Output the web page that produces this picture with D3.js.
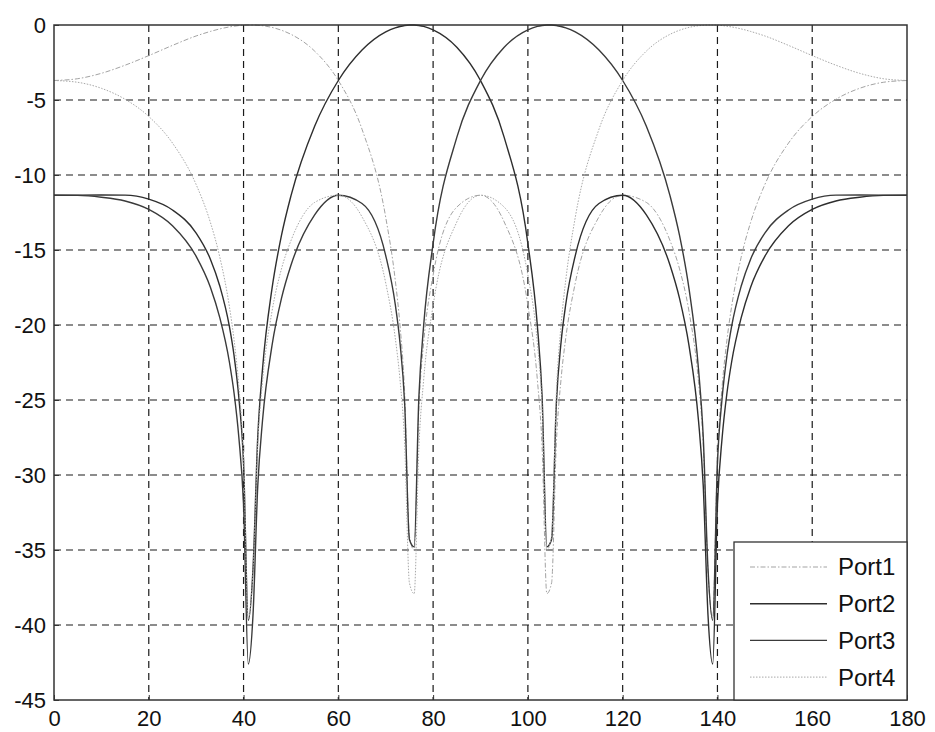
<!DOCTYPE html>
<html>
<head>
<meta charset="utf-8">
<script src="https://cdn.jsdelivr.net/npm/d3@7"></script>
<style>
  body { margin: 0; background: #fff; }
  svg text { font-family: "Liberation Sans", Arial, sans-serif; fill: #111; }
</style>
</head>
<body>
<div id="chart"></div>
<script>
// Data (dB vs angle)
const angles = [0, 5, 10, 15, 20, 25, 30, 33, 35, 37, 38, 39, 40, 41, 42, 43, 44, 46, 48, 50, 55, 60, 65, 70,
  72, 73, 74, 75, 76, 77, 78, 80, 85, 90, 95, 100, 102, 103, 104, 105, 106, 107, 108, 110, 115, 120, 125, 130,
  132, 134, 136, 137, 138, 139, 140, 141, 142, 143, 145, 147, 150, 155, 160, 165, 170, 175, 180]

const port1 = [-3.70, -3.58, -3.22, -2.68, -2.04, -1.36, -0.73, -0.43, -0.26, -0.13, -0.08, -0.04, -0.01, 0, 0, -0.02, -0.05,
  -0.16, -0.35, -0.62, -1.74, -3.70, -6.95, -12.82, -16.98, -19.99, -24.57, -34.06, -35.01, -25.47, -21.20,
  -16.67, -12.14, -11.35, -13.13, -18.69, -23.66, -28.15, -37.91, -37.19, -27.94, -23.60, -20.84,
  -17.20, -12.79, -11.35, -11.83, -14.38, -16.26, -19.10, -23.77, -27.94, -36.39, -39.56, -28.78, -24.06, -21.01, -18.75, -15.49, -13.16,
  -10.64, -7.87, -6.10, -4.95, -4.22, -3.82, -3.70]

const port2 = [-11.35, -11.34, -11.33, -11.34, -11.61, -12.33, -13.87, -15.61, -17.42, -20.08, -22.05, -24.82, -29.21, -39.69, -36.20, -27.44, -22.93,
  -17.58, -14.03, -11.39, -6.75, -3.70, -1.67, -0.46, -0.19, -0.10, -0.03, 0, 0, -0.03, -0.09,
  -0.32, -1.48, -3.70, -7.49, -14.57, -20.05, -24.79, -34.79, -34.30, -25.27, -21.15, -18.60,
  -15.37, -11.90, -11.35, -12.66, -16.02, -18.23, -21.38, -26.37, -30.71, -39.30, -42.60, -32.00, -27.47, -24.55, -22.45, -19.53, -17.48,
  -15.42, -13.38, -12.29, -11.73, -11.48, -11.36, -11.35]

const port3 = [-11.35, -11.36, -11.48, -11.73, -12.29, -13.38, -15.42, -17.48, -19.53, -22.45, -24.55, -27.47, -32.00, -42.60, -39.30, -30.71, -26.37,
  -21.38, -18.23, -16.02, -12.66, -11.35, -11.90, -15.37, -18.60, -21.15, -25.27, -34.30, -34.79, -24.79, -20.05,
  -14.57, -7.49, -3.70, -1.48, -0.32, -0.09, -0.03, 0, 0, -0.03, -0.10, -0.19,
  -0.46, -1.67, -3.70, -6.75, -11.39, -14.03, -17.58, -22.93, -27.44, -36.20, -39.69, -29.21, -24.82, -22.05, -20.08, -17.42, -15.61,
  -13.87, -12.33, -11.61, -11.34, -11.33, -11.34, -11.35]

const port4 = [-3.70, -3.82, -4.22, -4.95, -6.10, -7.87, -10.64, -13.16, -15.49, -18.75, -21.01, -24.06, -28.78, -39.56, -36.39, -27.94, -23.77,
  -19.10, -16.26, -14.38, -11.83, -11.35, -12.79, -17.20, -20.84, -23.60, -27.94, -37.19, -37.91, -28.15, -23.66,
  -18.69, -13.13, -11.35, -12.14, -16.67, -21.20, -25.47, -35.01, -34.06, -24.57, -19.99, -16.98,
  -12.82, -6.95, -3.70, -1.74, -0.62, -0.35, -0.16, -0.05, -0.02, 0, 0, -0.01, -0.04, -0.08, -0.13, -0.26, -0.43,
  -0.73, -1.36, -2.04, -2.68, -3.22, -3.58, -3.70]

const xTicks = [0, 20, 40, 60, 80, 100, 120, 140, 160, 180]
const yTicks = [0, -5, -10, -15, -20, -25, -30, -35, -40, -45]
const seriesNames = ['Port1', 'Port2', 'Port3', 'Port4']

function draw() {
  // Dimensions
  let dimensions = {
    width: 935,
    height: 732,
    margins: { top: 25, right: 28, bottom: 32, left: 54 }
  }
  dimensions.ctrWidth = dimensions.width - dimensions.margins.left - dimensions.margins.right
  dimensions.ctrHeight = dimensions.height - dimensions.margins.top - dimensions.margins.bottom

  const svg = d3.select('#chart')
    .append('svg')
    .attr('width', dimensions.width)
    .attr('height', dimensions.height)

  const ctr = svg.append('g')
    .attr('transform', `translate(${dimensions.margins.left}, ${dimensions.margins.top})`)

  // Scales
  const xScale = d3.scaleLinear()
    .domain([0, 180])
    .range([0, dimensions.ctrWidth])

  const yScale = d3.scaleLinear()
    .domain([-45, 0])
    .range([dimensions.ctrHeight, 0])

  // Grid
  ctr.append('g')
    .selectAll('line')
    .data(xTicks.filter(d => d > 0 && d < 180))
    .join('line')
    .attr('x1', d => xScale(d))
    .attr('x2', d => xScale(d))
    .attr('y1', 0)
    .attr('y2', dimensions.ctrHeight)
    .attr('stroke', '#1a1a1a')
    .attr('stroke-width', 1.2)
    .attr('stroke-dasharray', '7,5')

  ctr.append('g')
    .selectAll('line')
    .data(yTicks.filter(d => d < 0 && d > -45))
    .join('line')
    .attr('x1', 0)
    .attr('x2', dimensions.ctrWidth)
    .attr('y1', d => yScale(d))
    .attr('y2', d => yScale(d))
    .attr('stroke', '#1a1a1a')
    .attr('stroke-width', 1.2)
    .attr('stroke-dasharray', '7,5')

  // Lines
  const series = [
    { name: seriesNames[0], values: port1, color: '#a3a3a3', width: 1, dash: '5,2,1.5,2' },
    { name: seriesNames[1], values: port2, color: '#2e2e2e', width: 1.4, dash: null },
    { name: seriesNames[2], values: port3, color: '#3a3a3a', width: 1.4, dash: null },
    { name: seriesNames[3], values: port4, color: '#a8a8a8', width: 1, dash: '1.5,1.5' }
  ]

  const line = d3.line()
    .x((d, i) => xScale(angles[i]))
    .y(d => yScale(d))
    .curve(d3.curveMonotoneX)

  ctr.append('g')
    .selectAll('path')
    .data(series)
    .join('path')
    .attr('d', d => line(d.values))
    .attr('fill', 'none')
    .attr('stroke', d => d.color)
    .attr('stroke-width', d => d.width)
    .attr('stroke-dasharray', d => d.dash)

  // Frame
  ctr.append('rect')
    .attr('width', dimensions.ctrWidth)
    .attr('height', dimensions.ctrHeight)
    .attr('fill', 'none')
    .attr('stroke', '#333')
    .attr('stroke-width', 1.5)

  // Axes (plain hyphen for negative labels, like the original)
  const xAxis = d3.axisBottom(xScale)
    .tickValues(xTicks)
    .tickFormat(d => String(d))
    .tickSizeInner(-5)
    .tickSizeOuter(0)
    .tickPadding(10)

  const xAxisGroup = ctr.append('g')
    .attr('transform', `translate(0, ${dimensions.ctrHeight})`)
    .call(xAxis)

  const yAxis = d3.axisLeft(yScale)
    .tickValues(yTicks)
    .tickFormat(d => String(d))
    .tickSizeInner(-5)
    .tickSizeOuter(0)
    .tickPadding(8)

  const yAxisGroup = ctr.append('g').call(yAxis)

  ;[xAxisGroup, yAxisGroup].forEach(g => {
    g.select('.domain').remove()
    g.selectAll('.tick line').attr('stroke', '#333')
    g.selectAll('.tick text')
      .style('font-family', '"Liberation Sans", Arial, sans-serif')
      .style('font-size', '22px')
      .attr('fill', '#111')
  })

  // Legend
  const legendW = 173
  const legendH = 158
  const legend = ctr.append('g')
    .attr('transform', `translate(${dimensions.ctrWidth - legendW}, ${dimensions.ctrHeight - legendH})`)

  legend.append('rect')
    .attr('width', legendW)
    .attr('height', legendH)
    .attr('fill', '#fff')
    .attr('stroke', '#333')
    .attr('stroke-width', 1.3)

  const entry = legend.selectAll('g.entry')
    .data(series)
    .join('g')
    .attr('class', 'entry')
    .attr('transform', (d, i) => `translate(0, ${25 + i * 36.7})`)

  entry.append('line')
    .attr('x1', 16)
    .attr('x2', 93)
    .attr('stroke', d => d.color)
    .attr('stroke-width', d => d.width)
    .attr('stroke-dasharray', d => d.dash)

  entry.append('text')
    .attr('x', 104)
    .attr('dy', '0.35em')
    .style('font-size', '24px')
    .text(d => d.name)
}

draw()
</script>
</body>
</html>
